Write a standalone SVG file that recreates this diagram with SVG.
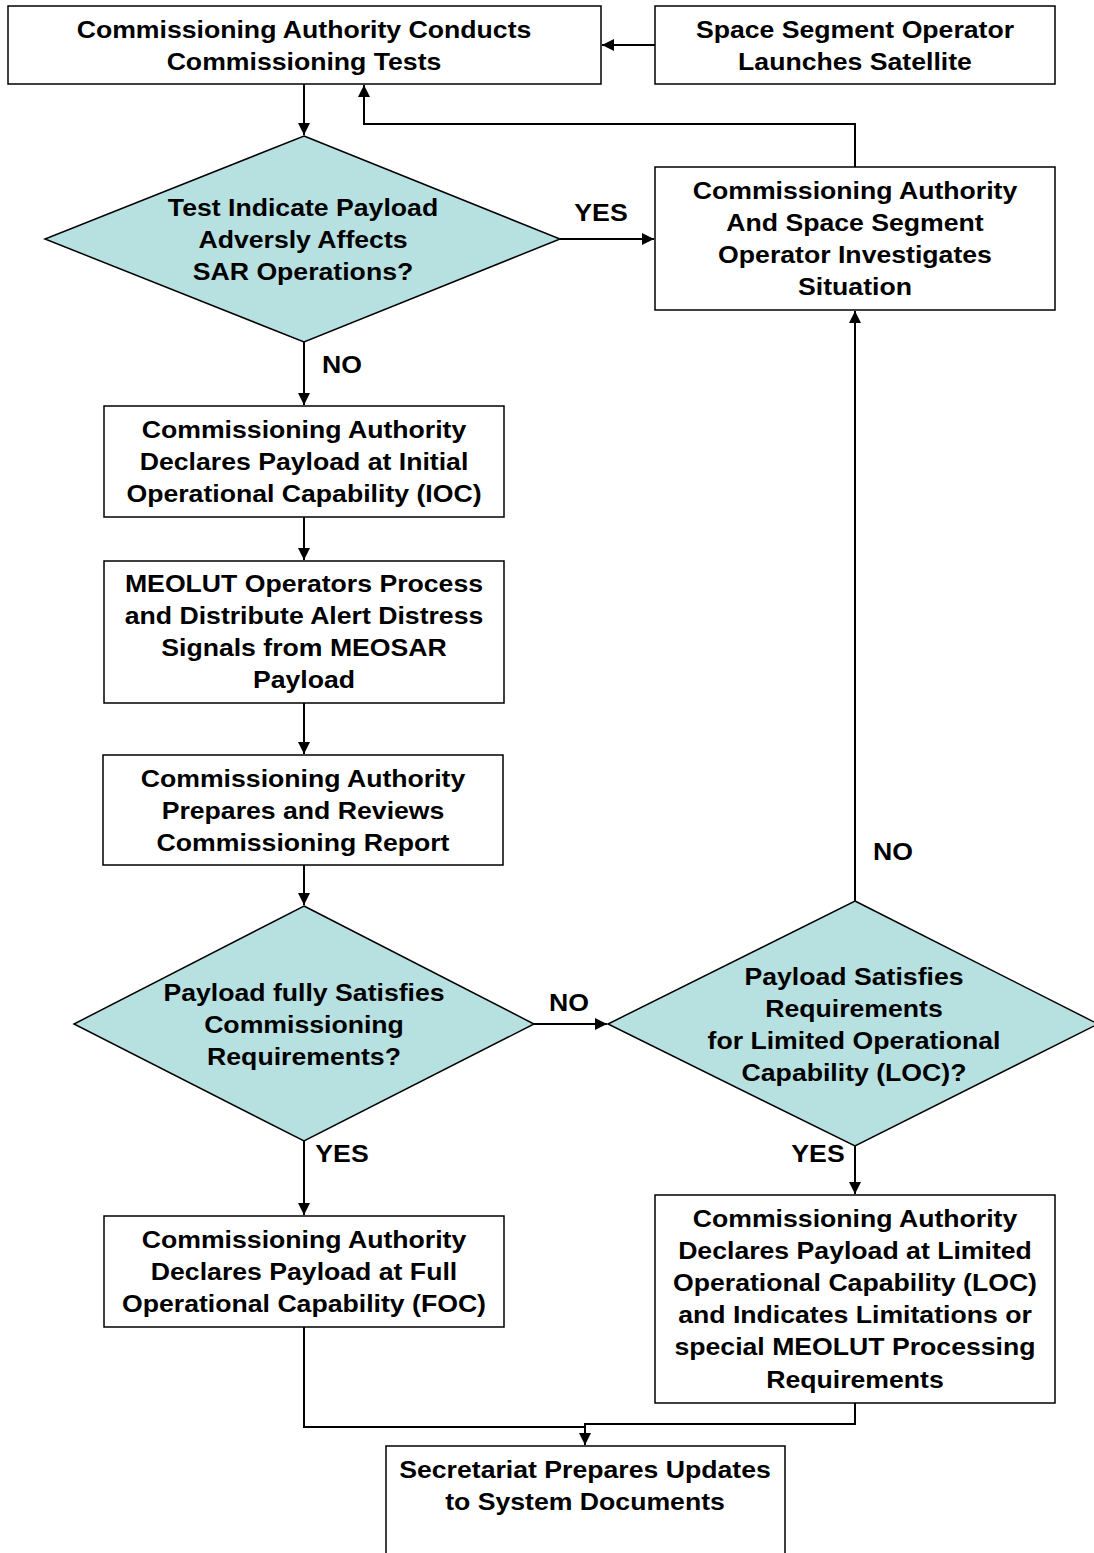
<svg xmlns="http://www.w3.org/2000/svg" width="1094" height="1553" viewBox="0 0 1094 1553">
<style>
.box{fill:#fff;stroke:#000;stroke-width:1.5}
.dia{fill:#B7E0E1;stroke:#000;stroke-width:1.5}
.t{font-family:"Liberation Sans",Arial,sans-serif;font-weight:bold;font-size:24px;text-anchor:middle;fill:#000}
.c{fill:none;stroke:#000;stroke-width:2}
</style>
<defs>
<marker id="ah" viewBox="0 0 10 10" refX="10" refY="5" markerWidth="6" markerHeight="6" orient="auto" markerUnits="strokeWidth">
<path d="M0,0 L10,5 L0,10 z" fill="#000"/>
</marker>
</defs>
<rect width="1094" height="1553" fill="#fff"/>
<g id="connectors">
<path class="c" d="M655,45 L602,45" marker-end="url(#ah)"/>
<path class="c" d="M304,84 L304,135" marker-end="url(#ah)"/>
<path class="c" d="M560,239 L654,239" marker-end="url(#ah)"/>
<path class="c" d="M855,167 L855,124 L364,124 L364,85" marker-end="url(#ah)"/>
<path class="c" d="M304,342 L304,405" marker-end="url(#ah)"/>
<path class="c" d="M304,517 L304,560" marker-end="url(#ah)"/>
<path class="c" d="M304,703 L304,754" marker-end="url(#ah)"/>
<path class="c" d="M304,865 L304,905" marker-end="url(#ah)"/>
<path class="c" d="M534,1024 L607,1024" marker-end="url(#ah)"/>
<path class="c" d="M855,901 L855,311" marker-end="url(#ah)"/>
<path class="c" d="M855,1146 L855,1194" marker-end="url(#ah)"/>
<path class="c" d="M304,1141 L304,1215" marker-end="url(#ah)"/>
<path class="c" d="M304,1327 L304,1427 L585,1427"/>
<path class="c" d="M855,1403 L855,1424 L585,1424 L585,1445" marker-end="url(#ah)"/>
<text class="t" transform="translate(601,221) scale(1.11,1)">YES</text>
<text class="t" transform="translate(342,373) scale(1.11,1)">NO</text>
<text class="t" transform="translate(569,1011) scale(1.11,1)">NO</text>
<text class="t" transform="translate(893,860) scale(1.11,1)">NO</text>
<text class="t" transform="translate(342,1162) scale(1.11,1)">YES</text>
<text class="t" transform="translate(818,1162) scale(1.11,1)">YES</text>
</g>
<g id="n1">
<rect class="box" x="8" y="6" width="593" height="78"/>
<text class="t" transform="translate(304,38) scale(1.11,1)">Commissioning Authority Conducts</text>
<text class="t" transform="translate(304,70) scale(1.11,1)">Commissioning Tests</text>
</g>
<g id="n2">
<rect class="box" x="655" y="6" width="400" height="78"/>
<text class="t" transform="translate(855,38) scale(1.11,1)">Space Segment Operator</text>
<text class="t" transform="translate(855,70) scale(1.11,1)">Launches Satellite</text>
</g>
<g id="n3">
<polygon class="dia" points="304,136 560,239 304,342 45,239"/>
<text class="t" transform="translate(303,216) scale(1.11,1)">Test Indicate Payload</text>
<text class="t" transform="translate(303,248) scale(1.11,1)">Adversly Affects</text>
<text class="t" transform="translate(303,280) scale(1.11,1)">SAR Operations?</text>
</g>
<g id="n4">
<rect class="box" x="655" y="167" width="400" height="143"/>
<text class="t" transform="translate(855,199) scale(1.11,1)">Commissioning Authority</text>
<text class="t" transform="translate(855,231) scale(1.11,1)">And Space Segment</text>
<text class="t" transform="translate(855,263) scale(1.11,1)">Operator Investigates</text>
<text class="t" transform="translate(855,295) scale(1.11,1)">Situation</text>
</g>
<g id="n5">
<rect class="box" x="104" y="406" width="400" height="111"/>
<text class="t" transform="translate(304,438) scale(1.11,1)">Commissioning Authority</text>
<text class="t" transform="translate(304,470) scale(1.11,1)">Declares Payload at Initial</text>
<text class="t" transform="translate(304,502) scale(1.11,1)">Operational Capability (IOC)</text>
</g>
<g id="n6">
<rect class="box" x="104" y="561" width="400" height="142"/>
<text class="t" transform="translate(304,592) scale(1.11,1)">MEOLUT Operators Process</text>
<text class="t" transform="translate(304,624) scale(1.11,1)">and Distribute Alert Distress</text>
<text class="t" transform="translate(304,656) scale(1.11,1)">Signals from MEOSAR</text>
<text class="t" transform="translate(304,688) scale(1.11,1)">Payload</text>
</g>
<g id="n7">
<rect class="box" x="103" y="755" width="400" height="110"/>
<text class="t" transform="translate(303,787) scale(1.11,1)">Commissioning Authority</text>
<text class="t" transform="translate(303,819) scale(1.11,1)">Prepares and Reviews</text>
<text class="t" transform="translate(303,851) scale(1.11,1)">Commissioning Report</text>
</g>
<g id="n8">
<polygon class="dia" points="304,906 534,1024 304,1141 74,1024"/>
<text class="t" transform="translate(304,1001) scale(1.11,1)">Payload fully Satisfies</text>
<text class="t" transform="translate(304,1033) scale(1.11,1)">Commissioning</text>
<text class="t" transform="translate(304,1065) scale(1.11,1)">Requirements?</text>
</g>
<g id="n9">
<polygon class="dia" points="855,901 1098,1024 855,1146 608,1024"/>
<text class="t" transform="translate(854,985) scale(1.11,1)">Payload Satisfies</text>
<text class="t" transform="translate(854,1017) scale(1.11,1)">Requirements</text>
<text class="t" transform="translate(854,1049) scale(1.11,1)">for Limited Operational</text>
<text class="t" transform="translate(854,1081) scale(1.11,1)">Capability (LOC)?</text>
</g>
<g id="n10">
<rect class="box" x="104" y="1216" width="400" height="111"/>
<text class="t" transform="translate(304,1248) scale(1.11,1)">Commissioning Authority</text>
<text class="t" transform="translate(304,1280) scale(1.11,1)">Declares Payload at Full</text>
<text class="t" transform="translate(304,1312) scale(1.11,1)">Operational Capability (FOC)</text>
</g>
<g id="n11">
<rect class="box" x="655" y="1195" width="400" height="208"/>
<text class="t" transform="translate(855,1227) scale(1.11,1)">Commissioning Authority</text>
<text class="t" transform="translate(855,1259) scale(1.11,1)">Declares Payload at Limited</text>
<text class="t" transform="translate(855,1291) scale(1.11,1)">Operational Capability (LOC)</text>
<text class="t" transform="translate(855,1323) scale(1.11,1)">and Indicates Limitations or</text>
<text class="t" transform="translate(855,1355) scale(1.11,1)">special MEOLUT Processing</text>
<text class="t" transform="translate(855,1388) scale(1.11,1)">Requirements</text>
</g>
<g id="n12">
<rect class="box" x="386" y="1446" width="399" height="130"/>
<text class="t" transform="translate(585,1478) scale(1.11,1)">Secretariat Prepares Updates</text>
<text class="t" transform="translate(585,1510) scale(1.11,1)">to System Documents</text>
</g>
</svg>
